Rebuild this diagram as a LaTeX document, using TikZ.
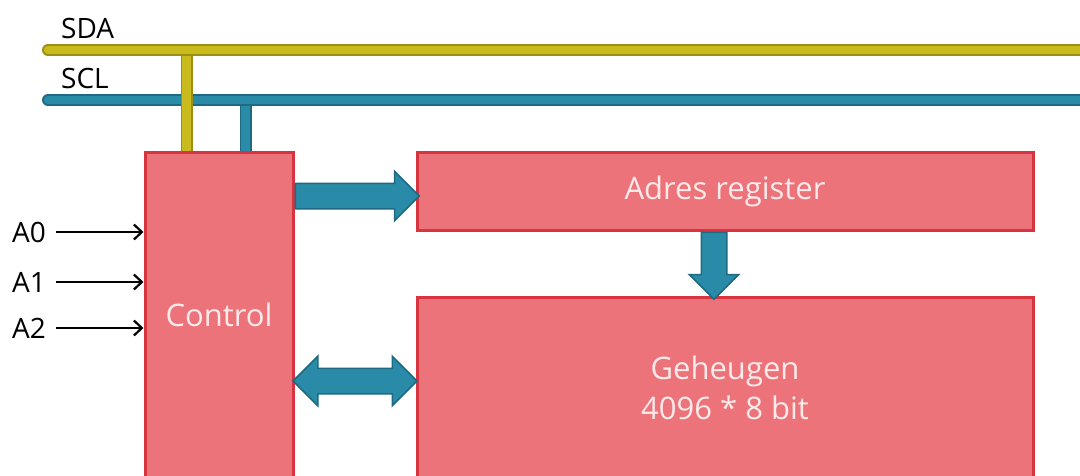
\documentclass[tikz,border=0pt]{standalone}
\usepackage{fontspec}
\setmainfont{Open Sans}
\usetikzlibrary{arrows.meta}
\usetikzlibrary{shapes.arrows}
\usetikzlibrary{calc}

\definecolor{busyellow}{HTML}{C9BA1E}
\definecolor{busyellowdark}{HTML}{9C8E12}
\definecolor{busteal}{HTML}{2A8BA8}
\definecolor{bustealdark}{HTML}{1E6A82}
\definecolor{blockfill}{HTML}{EC7379}
\definecolor{blockline}{HTML}{D8343F}
\definecolor{blocktext}{HTML}{FDEAEA}

\tikzset{
  block/.style={draw=blockline, line width=3pt, fill=blockfill, text=blocktext,
                font=\fontsize{31pt}{40pt}\selectfont, align=center, inner sep=0pt},
  lbl/.style={font=\fontsize{28pt}{32pt}\selectfont, inner sep=0pt},
  sdabus/.style={draw=busyellowdark, line width=12pt, postaction={draw=busyellow, line width=8.5pt}},
  sclbus/.style={draw=bustealdark, line width=12pt, postaction={draw=busteal, line width=8.5pt}},
  fat/.style={draw=bustealdark, fill=busteal, line width=1.5pt, inner sep=12pt,
              single arrow head extend=12pt, double arrow head extend=12pt},
  pin/.style={line width=2.2pt, shorten <=10pt, -{Straight Barb[length=8pt,width=15pt]}},
}

\begin{document}
\begin{tikzpicture}
\useasboundingbox (0pt,0pt) rectangle (1080pt,-475pt); % picture size
\node[block, minimum width=148pt, minimum height=326pt] (ctrl) at (219pt,-315pt) {Control};
\node[block, minimum width=616pt, minimum height=78pt] (adres) at (725pt,-191pt) {Adres register};
\node[block, minimum width=616pt, minimum height=181pt] (geheugen) at (725pt,-387.5pt) {Geheugen\\4096 * 8 bit};

\coordinate (sda) at (48pt,-50pt);
\coordinate (sdaend) at (1095pt,-50pt);
\coordinate (scl) at (48pt,-100pt);
\coordinate (sclend) at (1095pt,-100pt);
\coordinate (sdatap) at ($(ctrl.north west)+(43pt,0)$);
\coordinate (scltap) at ($(ctrl.north west)+(102pt,0)$);
\draw[sclbus] (scltap) -- (scltap |- scl);
\draw[sclbus, line cap=round] (scl) -- (sclend);
\draw[sdabus] (sdatap) -- (sdatap |- sda);
\draw[sdabus, line cap=round] (sda) -- (sdaend);
\node[lbl, anchor=base west] (sdalabel) at (61pt,-38pt) {SDA};
\node[lbl, anchor=base west] (scllabel) at (61pt,-88pt) {SCL};

\node[lbl, anchor=west] (a0) at (12pt,-232pt) {A0};
\node[lbl, anchor=west] (a1) at (12pt,-282pt) {A1};
\node[lbl, anchor=west] (a2) at (12pt,-328pt) {A2};
\draw[pin] (a0.east) -- (a0.east -| ctrl.west);
\draw[pin] (a1.east) -- (a1.east -| ctrl.west);
\draw[pin] (a2.east) -- (a2.east -| ctrl.west);

\coordinate (adrport) at ($(ctrl.east |- adres.west)+(0,-5pt)$);
\coordinate (memport) at ($(adres.south)+(-11pt,0)$);
\node[fat, single arrow, anchor=tail, minimum height=124pt] (toadres) at (adrport) {};
\node[fat, double arrow, minimum height=124pt] (ctrlmem)
  at ($(ctrl.east |- geheugen.west)!.5!(geheugen.west)+(0,6.5pt)$) {};
\node[fat, single arrow, shape border rotate=270, anchor=tail, minimum height=67pt] (adrmem)
  at (memport) {};
\end{tikzpicture}
\end{document}
